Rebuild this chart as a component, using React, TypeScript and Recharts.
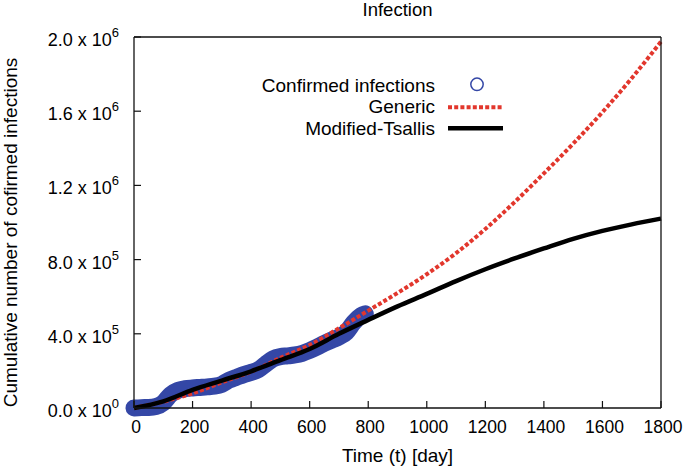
import React from 'react';
import { ComposedChart, Line, XAxis, YAxis, Legend } from 'recharts';

// Confirmed infections (days, cumulative count)
const confirmedDays = [0, 25, 50, 75, 100, 125, 150, 175, 200, 225, 250, 275, 300, 325, 350, 375, 400, 425, 450, 475, 500, 525, 550, 575, 600, 625, 650, 675, 700, 725, 750, 775, 790];
const confirmedValues = [0, 2000, 3000, 8000, 28000, 72000, 95000, 104000, 108000, 111000, 114000, 118000, 128000, 150000, 165000, 180000, 192000, 207000, 237000, 265000, 277000, 281000, 286000, 295000, 310000, 328000, 348000, 366000, 383000, 408000, 460000, 498000, 508000];

// Model curves
const modelDays = [0, 100, 200, 300, 400, 500, 600, 700, 800, 900, 1000, 1100, 1200, 1300, 1400, 1500, 1600, 1700, 1800];
const genericValues = [0, 34000, 79000, 138000, 196000, 270000, 340000, 430000, 525000, 620000, 721000, 835000, 965000, 1110000, 1265000, 1425000, 1595000, 1778000, 1975000];
const tsallisValues = [0, 36000, 98000, 148000, 198000, 258000, 318000, 400000, 475000, 548000, 615000, 684000, 748000, 806000, 860000, 912000, 955000, 990000, 1021000];

// Axis ticks
const xTicks = [0, 200, 400, 600, 800, 1000, 1200, 1400, 1600, 1800];
const yTicks = [0, 400000, 800000, 1200000, 1600000, 2000000];
const yTickMantissa = ['0.0', '4.0', '8.0', '1.2', '1.6', '2.0'];
const yTickExp = ['0', '5', '5', '6', '6', '6'];

const confirmedData = confirmedDays.map((d, i) => ({ x: d, y: confirmedValues[i] }));
const genericData = modelDays.map((d, i) => ({ x: d, y: genericValues[i] }));
const tsallisData = modelDays.map((d, i) => ({ x: d, y: tsallisValues[i] }));

const FONT = '"Liberation Sans", Arial, Helvetica, sans-serif';
const BLUE = '#3447a6';
const RED = '#e2372d';
const AXIS = '#111';

const BottomTick = (props: any) => {
  const { x, y, payload } = props;
  return (
    <g>
      <line x1={x} y1={y} x2={x} y2={y - 7} stroke={AXIS} strokeWidth={1.2} />
      <text x={x + 2} y={y + 25} textAnchor="middle" fontSize={17.5} fontFamily={FONT} fill="#000">
        {payload.value}
      </text>
    </g>
  );
};

const TopTick = (props: any) => {
  const { x, y } = props;
  return <line x1={x} y1={y} x2={x} y2={y + 7} stroke={AXIS} strokeWidth={1.2} />;
};

const LeftTick = (props: any) => {
  const { x, y, payload } = props;
  const idx = yTicks.indexOf(payload.value);
  return (
    <g>
      <line x1={x} y1={y} x2={x + 7} y2={y} stroke={AXIS} strokeWidth={1.2} />
      <text x={x - 15} y={y + 9} textAnchor="end" fontSize={18} fontFamily={FONT} fill="#000">
        {yTickMantissa[idx] + ' x 10'}
        <tspan dy={-9} fontSize={13}>{yTickExp[idx]}</tspan>
      </text>
    </g>
  );
};

const RightTick = (props: any) => {
  const { x, y } = props;
  return <line x1={x} y1={y} x2={x - 7} y2={y} stroke={AXIS} strokeWidth={1.2} />;
};

const LegendContent = () => (
  <svg width={300} height={75} style={{ display: 'block' }}>
    <text x={205} y={21.7} textAnchor="end" fontSize={19} fontFamily={FONT} fill="#000">Confirmed infections</text>
    <circle cx={247} cy={14.3} r={6.2} fill="none" stroke={BLUE} strokeWidth={1.5} />
    <text x={205} y={43.3} textAnchor="end" fontSize={19} fontFamily={FONT} fill="#000">Generic</text>
    <line x1={218} y1={37.3} x2={273} y2={37.3} stroke={RED} strokeWidth={4} strokeDasharray="4 2.2" />
    <text x={205} y={65} textAnchor="end" fontSize={19} fontFamily={FONT} fill="#000">Modified-Tsallis</text>
    <line x1={218} y1={58.3} x2={273} y2={58.3} stroke="#000" strokeWidth={4.5} />
  </svg>
);

export default function App() {
  return (
    <div style={{ position: 'absolute', left: 0, top: 0, width: 685, height: 468, background: '#fff' }}>
      <ComposedChart width={685} height={468} margin={{ top: 36, right: 23, bottom: 30, left: 34 }}>
        <XAxis
          dataKey="x"
          type="number"
          domain={[0, 1800]}
          ticks={xTicks}
          interval={0}
          height={30}
          tickSize={0}
          tickMargin={0}
          tickLine={false}
          axisLine={{ stroke: AXIS, strokeWidth: 1.3 }}
          tick={<BottomTick />}
          label={{
            content: (p: any) => {
              const vb = p.viewBox || { x: 134, y: 408, width: 527 };
              return (
                <text x={vb.x + vb.width / 2} y={vb.y + 53.7} textAnchor="middle" fontSize={19} fontFamily={FONT} fill="#000">
                  Time (t) [day]
                </text>
              );
            },
          }}
        />
        <XAxis
          xAxisId="top"
          orientation="top"
          dataKey="x"
          type="number"
          domain={[0, 1800]}
          ticks={xTicks}
          interval={0}
          height={1}
          tickSize={0}
          tickMargin={0}
          tickLine={false}
          axisLine={{ stroke: AXIS, strokeWidth: 1.3 }}
          tick={<TopTick />}
          label={{
            content: (p: any) => {
              const vb = p.viewBox || { x: 134, y: 36, width: 527, height: 1 };
              return (
                <text x={vb.x + vb.width / 2} y={16} textAnchor="middle" fontSize={18.5} fontFamily={FONT} fill="#000">
                  Infection
                </text>
              );
            },
          }}
        />
        <YAxis
          type="number"
          domain={[0, 2000000]}
          ticks={yTicks}
          interval={0}
          width={100}
          tickSize={0}
          tickMargin={0}
          tickLine={false}
          axisLine={{ stroke: AXIS, strokeWidth: 1.3 }}
          tick={<LeftTick />}
          label={{
            content: (p: any) => {
              const vb = p.viewBox || { x: 34, y: 37, width: 100, height: 371 };
              const cx = vb.x - 17;
              const cy = vb.y + vb.height / 2 + 10;
              return (
                <text x={cx} y={cy} transform={`rotate(-90 ${cx} ${cy})`} textAnchor="middle" fontSize={19} fontFamily={FONT} fill="#000">
                  Cumulative number of cofirmed infections
                </text>
              );
            },
          }}
        />
        <YAxis
          yAxisId="right"
          orientation="right"
          type="number"
          domain={[0, 2000000]}
          ticks={yTicks}
          interval={0}
          width={1}
          tickSize={0}
          tickMargin={0}
          tickLine={false}
          axisLine={{ stroke: AXIS, strokeWidth: 1.3 }}
          tick={<RightTick />}
        />
        <Legend
          layout="vertical"
          align="center"
          verticalAlign="middle"
          content={<LegendContent />}
          wrapperStyle={{ position: 'absolute', left: 230, top: 70, width: 300, height: 75 }}
        />
        <Line
          data={confirmedData}
          dataKey="y"
          type="monotone"
          stroke={BLUE}
          strokeWidth={17}
          strokeLinecap="round"
          strokeLinejoin="round"
          dot={false}
          activeDot={false}
          isAnimationActive={false}
          legendType="circle"
          name="Confirmed infections"
        />
        <Line
          data={genericData}
          dataKey="y"
          type="monotone"
          stroke={RED}
          strokeWidth={4}
          strokeDasharray="4 2.2"
          dot={false}
          activeDot={false}
          isAnimationActive={false}
          name="Generic"
        />
        <Line
          data={tsallisData}
          dataKey="y"
          type="monotone"
          stroke="#000"
          strokeWidth={4.5}
          dot={false}
          activeDot={false}
          isAnimationActive={false}
          name="Modified-Tsallis"
        />
      </ComposedChart>
    </div>
  );
}
